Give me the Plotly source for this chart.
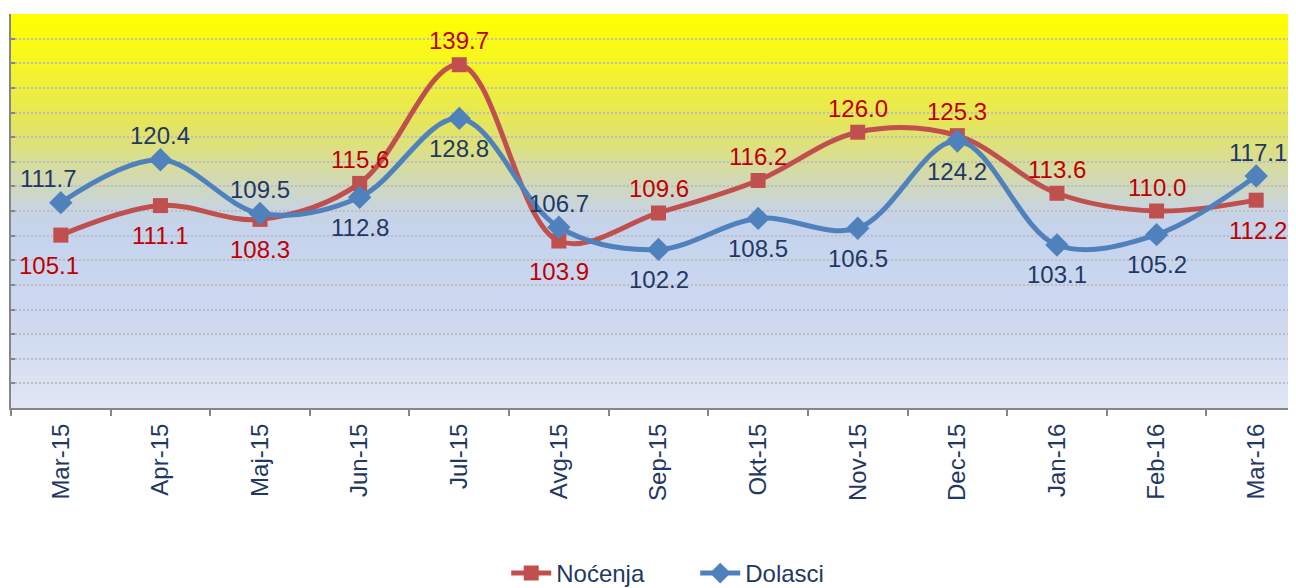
import base64
import plotly.graph_objects as go

months = ["Mar-15", "Apr-15", "Maj-15", "Jun-15", "Jul-15", "Avg-15", "Sep-15",
          "Okt-15", "Nov-15", "Dec-15", "Jan-16", "Feb-16", "Mar-16"]
nocenja = [105.1, 111.1, 108.3, 115.6, 139.7, 103.9, 109.6, 116.2, 126.0, 125.3, 113.6, 110.0, 112.2]
dolasci = [111.7, 120.4, 109.5, 112.8, 128.8, 106.7, 102.2, 108.5, 106.5, 124.2, 103.1, 105.2, 117.1]

# label placement: "a" = above the point, "b" = below the point
noc_pos = ["b", "b", "b", "a", "a", "b", "a", "a", "a", "a", "a", "a", "b"]
dol_pos = ["a", "a", "a", "b", "b", "a", "b", "b", "b", "b", "b", "b", "a"]

RED = "#C0504D"
BLUE = "#4F81BD"
RED_TXT = "#C00000"
NAVY = "#1F3864"
FONT = "Liberation Sans, Arial, sans-serif"

svg = (
    '<svg xmlns="http://www.w3.org/2000/svg" width="100" height="100" viewBox="0 0 100 100" '
    'preserveAspectRatio="none">'
    '<defs><linearGradient id="g" x1="0" y1="0" x2="0" y2="1">'
    '<stop offset="0" stop-color="#FFFF00"/>'
    '<stop offset="0.10" stop-color="#F8F81C"/>'
    '<stop offset="0.28" stop-color="#E4E55E"/>'
    '<stop offset="0.42" stop-color="#D2D9B2"/>'
    '<stop offset="0.50" stop-color="#C7D4E4"/>'
    '<stop offset="0.56" stop-color="#C5D3EE"/>'
    '<stop offset="0.80" stop-color="#CFDAF1"/>'
    '<stop offset="1" stop-color="#E0E6F4"/>'
    '</linearGradient></defs>'
    '<rect x="0" y="0" width="100" height="100" fill="url(#g)"/></svg>'
)
svg_uri = "data:image/svg+xml;base64," + base64.b64encode(svg.encode()).decode()

fig = go.Figure()
fig.add_trace(go.Scatter(
    x=months, y=nocenja, name="Noćenja", mode="lines+markers",
    line=dict(color=RED, width=5, shape="spline", smoothing=1.0),
    marker=dict(symbol="square", size=15, color=RED),
    cliponaxis=False,
))
fig.add_trace(go.Scatter(
    x=months, y=dolasci, name="Dolasci", mode="lines+markers",
    line=dict(color=BLUE, width=5, shape="spline", smoothing=1.0),
    marker=dict(symbol="diamond", size=18, color=BLUE),
    cliponaxis=False,
))

annotations = []
n = len(months)
for series, pos, color in ((nocenja, noc_pos, RED_TXT), (dolasci, dol_pos, NAVY)):
    for i, (m, v, p) in enumerate(zip(months, series, pos)):
        xs = -12 if i == 0 else (2 if i == n - 1 else 0)
        annotations.append(dict(
            x=m, y=v, xref="x", yref="y", text=f"{v:.1f}", showarrow=False,
            yanchor="middle", xanchor="center",
            yshift=24 if p == "a" else -30, xshift=xs,
            font=dict(family=FONT, size=24, color=color),
        ))

fig.update_layout(
    width=1296, height=588,
    margin=dict(l=3, r=0, t=6, b=188),
    paper_bgcolor="white",
    plot_bgcolor="rgba(0,0,0,0)",
    font=dict(family=FONT, size=24, color=NAVY),
    showlegend=True,
    legend=dict(orientation="h", x=0.383, xanchor="left", yref="container", y=0.0,
                yanchor="bottom", font=dict(size=24, color=NAVY), itemwidth=40,
                entrywidth=134, bgcolor="rgba(0,0,0,0)"),
    annotations=annotations,
    images=[dict(source=svg_uri, xref="x domain", yref="y domain", x=0, y=1,
                 sizex=1, sizey=1, xanchor="left", yanchor="top",
                 sizing="stretch", layer="below")],
)
fig.update_xaxes(
    type="category", range=[-0.5, 12.48], tickson="boundaries",
    ticks="outside", ticklen=6, tickcolor="#868686", tickwidth=2,
    showline=True, linecolor="#868686", linewidth=2,
    tickangle=-90, tickfont=dict(family=FONT, size=24, color=NAVY),
    ticklabelstandoff=4,
    showgrid=False,
)
fig.update_yaxes(
    range=[70, 150], dtick=5, showticklabels=False,
    ticks="inside", ticklen=4, tickcolor="#868686", tickwidth=2,
    showline=True, linecolor="#868686", linewidth=2,
    showgrid=True, gridcolor="#BDBDBD", gridwidth=1.5, griddash="2px,2px",
    zeroline=False,
)

fig.write_html("out.html")
